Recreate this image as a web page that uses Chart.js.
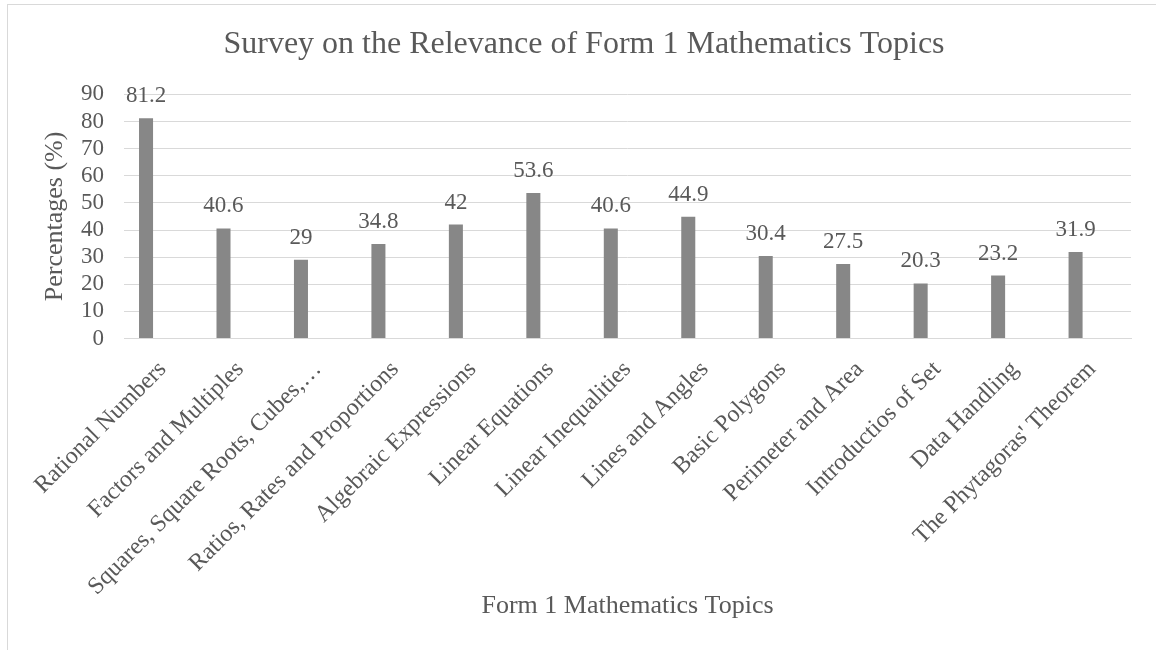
<!DOCTYPE html>
<html>
<head>
<meta charset="utf-8">
<script src="https://cdn.jsdelivr.net/npm/chart.js@4"></script>
<style>
  html, body { margin: 0; padding: 0; background: #fff; }
  canvas { display: block; }
</style>
</head>
<body>
<canvas id="myChart" width="1156" height="650"></canvas>
<script>
const topics = [
  "Rational Numbers",
  "Factors and Multiples",
  "Squares, Square Roots, Cubes,\u2026",
  "Ratios, Rates and Proportions",
  "Algebraic Expressions",
  "Linear Equations",
  "Linear Inequalities",
  "Lines and Angles",
  "Basic Polygons",
  "Perimeter and Area",
  "Introductios of Set",
  "Data Handling",
  "The Phytagoras' Theorem",
];
const percentages = [81.2, 40.6, 29, 34.8, 42, 53.6, 40.6, 44.9, 30.4, 27.5, 20.3, 23.2, 31.9];
const yMin = 0;
const yMax = 90;
const yStep = 10;

const textColor = "#595959";
const gridColor = "#d9d9d9";
const barColor = "#878787";
const serif = "'Liberation Serif', 'Times New Roman', serif";

// light frame round the whole chart, like the office chart object
const chartBorder = {
  id: "chartBorder",
  beforeDraw(chart) {
    const ctx = chart.ctx;
    ctx.save();
    ctx.fillStyle = "#fff";
    ctx.fillRect(0, 0, chart.width, chart.height);
    ctx.strokeStyle = gridColor;
    ctx.lineWidth = 1;
    ctx.strokeRect(7.5, 4.5, chart.width + 20, chart.height + 20);
    ctx.restore();
  },
};

// value labels above each bar
const barLabels = {
  id: "barLabels",
  afterDatasetsDraw(chart) {
    const ctx = chart.ctx;
    const meta = chart.getDatasetMeta(0);
    ctx.save();
    ctx.font = "23px " + serif;
    ctx.fillStyle = textColor;
    ctx.textAlign = "center";
    ctx.textBaseline = "alphabetic";
    meta.data.forEach((bar, i) => {
      ctx.fillText(String(percentages[i]), bar.x, bar.y - 16);
    });
    ctx.restore();
  },
};

new Chart("myChart", {
  type: "bar",
  data: {
    labels: topics,
    datasets: [
      {
        data: percentages,
        backgroundColor: barColor,
        categoryPercentage: 0.862,
        barPercentage: 0.42,
      },
      {
        // empty second series: keeps the bars left of the category centre
        data: topics.map(() => null),
        backgroundColor: barColor,
        categoryPercentage: 0.862,
        barPercentage: 0.42,
      },
    ],
  },
  options: {
    responsive: false,
    animation: false,
    layout: {
      padding: { left: 37, right: 25, top: 0, bottom: 0 },
    },
    plugins: {
      legend: { display: false },
      tooltip: { enabled: false },
      title: {
        display: true,
        text: "Survey on the Relevance of Form 1 Mathematics Topics",
        color: textColor,
        font: { family: serif, size: 32, weight: "normal" },
        padding: { top: 25, bottom: 31 },
      },
    },
    scales: {
      x: {
        grid: { display: false },
        border: { color: gridColor },
        ticks: {
          color: textColor,
          font: { family: serif, size: 24 },
          minRotation: 45,
          maxRotation: 45,
          autoSkip: false,
          padding: 9,
        },
        title: {
          display: true,
          text: "Form 1 Mathematics Topics",
          color: textColor,
          font: { family: serif, size: 26 },
          padding: { top: 0, bottom: 28 },
        },
        afterFit(scale) {
          scale.height = 311.5;
        },
      },
      y: {
        min: yMin,
        max: yMax,
        ticks: {
          stepSize: yStep,
          autoSkip: false,
          color: textColor,
          font: { family: serif, size: 23 },
          padding: 20,
        },
        grid: { color: gridColor, drawTicks: false },
        border: { display: false },
        title: {
          display: true,
          text: "Percentages (%)",
          color: textColor,
          font: { family: serif, size: 26 },
          padding: { top: 3, bottom: 0 },
        },
        afterFit(scale) {
          scale.width = 87;
        },
      },
    },
  },
  plugins: [chartBorder, barLabels],
});
</script>
</body>
</html>
